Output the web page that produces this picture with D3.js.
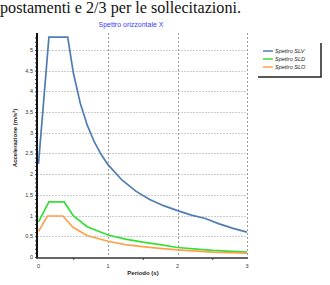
<!DOCTYPE html>
<html>
<head>
<meta charset="utf-8">
<script src="https://cdn.jsdelivr.net/npm/d3@7"></script>
<style>
  body { margin: 0; background: #fff; }
  svg { display: block; }
</style>
</head>
<body>
<script>
// Periods (s) and spectral accelerations (m/s²)
const periodSLV = [0, 0.15, 0.42, 0.5, 0.6, 0.7, 0.8, 0.9, 1.0, 1.2, 1.4, 1.6, 1.8, 2.0, 2.2, 2.4, 2.6, 2.8, 3.0];
const accSLV    = [2.25, 5.31, 5.31, 4.46, 3.72, 3.19, 2.79, 2.48, 2.23, 1.86, 1.59, 1.39, 1.24, 1.12, 1.01, 0.93, 0.80, 0.69, 0.60];

const periodSLD = [0, 0.15, 0.37, 0.5, 0.7, 1.0, 1.25, 1.5, 1.75, 2.0, 2.5, 3.0];
const accSLD    = [0.85, 1.33, 1.33, 1.0, 0.73, 0.53, 0.43, 0.36, 0.30, 0.23, 0.16, 0.12];

const periodSLO = [0, 0.13, 0.35, 0.5, 0.7, 1.0, 1.25, 1.5, 1.75, 2.0, 2.5, 3.0];
const accSLO    = [0.62, 0.99, 0.99, 0.71, 0.52, 0.38, 0.30, 0.25, 0.21, 0.17, 0.12, 0.09];

const seriesNames = ['Spettro SLV', 'Spettro SLD', 'Spettro SLO'];
const seriesColors = ['#4f7db3', '#33e033', '#ffa04d'];

const xTicks = [0, 1, 2, 3];
const yTicks = [0, 0.5, 1, 1.5, 2, 2.5, 3, 3.5, 4, 4.5, 5];

const W = 330, H = 285;

const svg = d3.select('body').append('svg')
    .attr('width', W)
    .attr('height', H);

// Line of the document text above the chart
svg.append('text')
    .attr('x', 0)
    .attr('y', 12.5)
    .attr('font-family', 'Liberation Serif, serif')
    .attr('font-size', 16)
    .attr('textLength', 241)
    .attr('lengthAdjust', 'spacingAndGlyphs')
    .attr('fill', '#111')
    .text('postamenti e 2/3 per le sollecitazioni.');

const x = d3.scaleLinear().domain([0, 3]).range([38.5, 247]);
const y = d3.scaleLinear().domain([0, 5.41]).range([257, 33]);

// Title
svg.append('text')
    .attr('x', 131)
    .attr('y', 27)
    .attr('text-anchor', 'middle')
    .attr('font-family', 'Liberation Sans, Arial, sans-serif')
    .attr('font-size', 7)
    .attr('fill', '#3a3aff')
    .text('Spettro orizzontale X');

// Horizontal grid (dotted)
svg.append('g')
    .selectAll('line')
    .data(yTicks.filter(d => d > 0))
    .join('line')
    .attr('x1', x(0) - 1)
    .attr('x2', x(3))
    .attr('y1', d => Math.round(y(d)) + 0.5)
    .attr('y2', d => Math.round(y(d)) + 0.5)
    .style('stroke', '#9a9a9a')
    .style('stroke-width', 1)
    .style('stroke-dasharray', '1,2');

// Vertical grid (dashed)
svg.append('g')
    .selectAll('line')
    .data(xTicks.filter(d => d > 0))
    .join('line')
    .attr('x1', d => Math.round(x(d)) + 0.5)
    .attr('x2', d => Math.round(x(d)) + 0.5)
    .attr('y1', y.range()[1])
    .attr('y2', y(0))
    .style('stroke', '#9a9a9a')
    .style('stroke-width', 1)
    .style('stroke-dasharray', '2,2');

// Curves
const line = d3.line()
    .x(d => x(d[0]))
    .y(d => y(d[1]));

const curves = [
    d3.zip(periodSLV, accSLV),
    d3.zip(periodSLD, accSLD),
    d3.zip(periodSLO, accSLO)
];

svg.append('g')
    .selectAll('path')
    .data(curves)
    .join('path')
    .attr('d', d => line(d))
    .style('fill', 'none')
    .style('stroke', (d, i) => seriesColors[i])
    .style('stroke-width', 1.7);

// Y axis
const yAxis = svg.append('g')
    .attr('transform', `translate(${x(0) - 1.5},0)`)
    .call(d3.axisLeft(y).tickValues(d3.range(0, 54).map(i => i / 10)).tickSize(2).tickFormat(''));
yAxis.select('.domain').remove();
yAxis.selectAll('.tick line').style('stroke', '#444');
svg.append('line')
    .attr('x1', x(0) - 1.5).attr('x2', x(0) - 1.5)
    .attr('y1', y.range()[1]).attr('y2', y(0) + 1)
    .style('stroke', '#111').style('stroke-width', 2);

svg.append('g')
    .selectAll('text')
    .data(yTicks)
    .join('text')
    .attr('x', 33)
    .attr('y', d => y(d) + 2)
    .attr('text-anchor', 'end')
    .attr('font-family', 'Liberation Sans, Arial, sans-serif')
    .attr('font-size', 5.5)
    .attr('fill', '#333')
    .text(d => d);

// X axis
const xAxis = svg.append('g')
    .attr('transform', `translate(0,${y(0) + 1})`)
    .call(d3.axisBottom(x).tickValues([0.5, 1.5, 2.5]).tickSize(2).tickFormat(''));
xAxis.select('.domain').remove();
xAxis.selectAll('.tick line').style('stroke', '#444');
svg.append('line')
    .attr('x1', x(0) - 2.5).attr('x2', x(3) + 1)
    .attr('y1', y(0) + 1).attr('y2', y(0) + 1)
    .style('stroke', '#333').style('stroke-width', 1.5);

svg.append('g')
    .selectAll('text')
    .data(xTicks)
    .join('text')
    .attr('x', d => x(d))
    .attr('y', 268)
    .attr('text-anchor', 'middle')
    .attr('font-family', 'Liberation Sans, Arial, sans-serif')
    .attr('font-size', 5.5)
    .attr('fill', '#333')
    .text(d => d);

// Axis titles
svg.append('text')
    .attr('x', 143)
    .attr('y', 275)
    .attr('text-anchor', 'middle')
    .attr('font-family', 'Liberation Sans, Arial, sans-serif')
    .attr('font-size', 6)
    .attr('font-weight', 'bold')
    .attr('fill', '#222')
    .text('Periodo (s)');

svg.append('text')
    .attr('transform', 'translate(17,138) rotate(-90)')
    .attr('text-anchor', 'middle')
    .attr('font-family', 'Liberation Sans, Arial, sans-serif')
    .attr('font-size', 6)
    .attr('font-weight', 'bold')
    .attr('fill', '#222')
    .text('Accelerazione (m/s²)');

// Legend with drop shadow on right and bottom
const legend = svg.append('g');
legend.append('path')
    .attr('d', 'M321,43 V77 H258')
    .style('fill', 'none')
    .style('stroke', '#222')
    .style('stroke-width', 1.5);

const items = legend.selectAll('g')
    .data(seriesNames)
    .join('g')
    .attr('transform', (d, i) => `translate(263,${51 + i * 8})`);
items.append('line')
    .attr('x1', 0).attr('x2', 10)
    .style('stroke', (d, i) => seriesColors[i])
    .style('stroke-width', 1.5);
items.append('text')
    .attr('x', 12)
    .attr('y', 2)
    .attr('font-family', 'Liberation Sans, Arial, sans-serif')
    .attr('font-size', 5.5)
    .attr('font-style', 'italic')
    .attr('fill', '#222')
    .text(d => d);
</script>
</body>
</html>
